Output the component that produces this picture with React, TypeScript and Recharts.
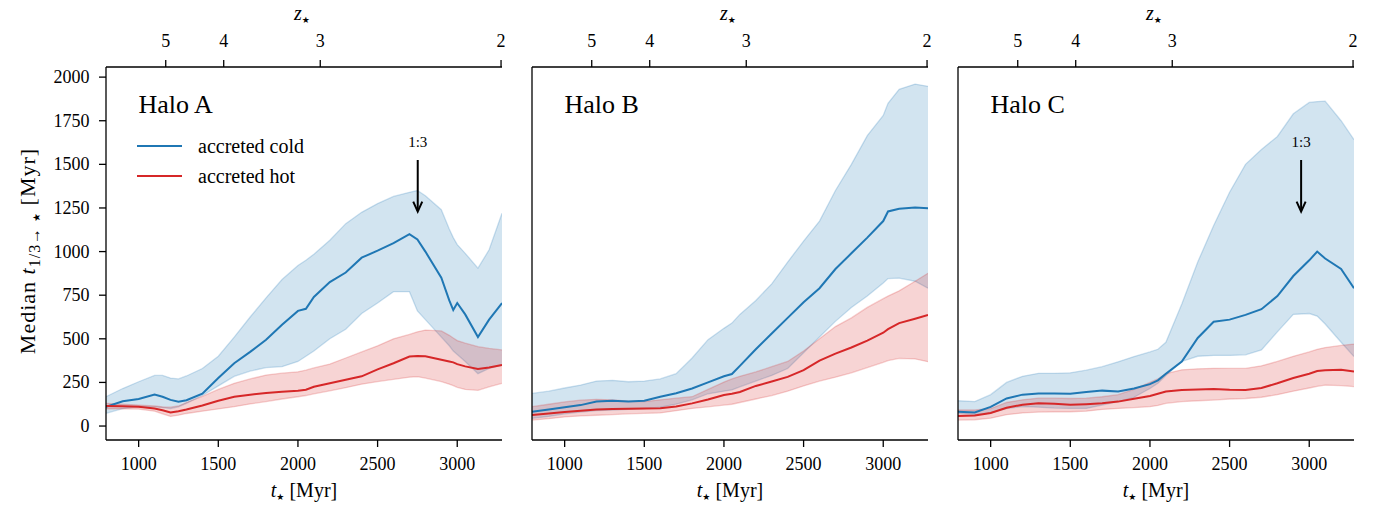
import React from 'react';
import { ComposedChart, Area, Line, XAxis, YAxis, ReferenceLine, Legend } from 'recharts';

const FONT = "'Liberation Serif', 'DejaVu Serif', serif";
const STAR_FONT = "'DejaVu Sans', sans-serif";
const BLUE = '#1f77b4';
const RED = '#d62728';

// ---------- shared axis data ----------
const tDomain = [795, 3281];
const yDomain = [-80, 2058];
const tTicks = [1000, 1500, 2000, 2500, 3000];
const yTicks = [0, 250, 500, 750, 1000, 1250, 1500, 1750, 2000];
const zTickLabels = ['5', '4', '3', '2'];
const zTickTimes = [1170, 1534, 2140, 3275];

const haloNames = ['Halo A', 'Halo B', 'Halo C'];
const legendNames = ['accreted cold', 'accreted hot'];
const legendColors = [BLUE, RED];

// merger arrows (time of 1:3 merger, null = none)
const mergerTimes = [2752, null, 2949];
const mergerLabel = '1:3';
const arrowTop = 1525;
const arrowTip = 1229;

// ---------- Halo A ----------
const tA = [795, 900, 1000, 1100, 1150, 1200, 1250, 1300, 1400, 1500, 1600, 1700, 1800, 1900, 2000, 2050, 2100, 2200, 2300, 2400, 2500, 2600, 2700, 2750, 2800, 2900, 2950, 2975, 3000, 3050, 3130, 3200, 3281];
const coldMedA = [111, 142, 155, 180, 168, 150, 140, 148, 185, 275, 360, 425, 495, 580, 660, 672, 740, 825, 880, 965, 1005, 1048, 1100, 1070, 1000, 850, 720, 665, 705, 640, 510, 610, 705];
const coldHiA = [168, 215, 254, 290, 290, 275, 270, 287, 330, 400, 510, 625, 735, 840, 920, 950, 985, 1065, 1160, 1225, 1275, 1316, 1340, 1350, 1320, 1240, 1130, 1080, 1040, 990, 905, 1010, 1220];
const coldLoA = [73, 100, 111, 110, 105, 100, 110, 130, 175, 230, 285, 315, 335, 340, 370, 400, 430, 500, 555, 645, 705, 770, 770, 660, 610, 510, 460, 430, 410, 370, 300, 330, 350];
const hotMedA = [115, 113, 111, 100, 90, 78, 85, 95, 118, 145, 168, 180, 190, 197, 202, 208, 225, 245, 265, 285, 325, 360, 398, 402, 400, 380, 370, 365, 355, 342, 327, 335, 350];
const hotHiA = [130, 125, 120, 115, 110, 108, 115, 135, 170, 210, 245, 270, 292, 303, 311, 320, 333, 355, 390, 425, 460, 500, 525, 540, 550, 545, 520, 505, 490, 475, 455, 445, 436];
const hotLoA = [99, 98, 97, 85, 70, 55, 62, 72, 85, 98, 111, 127, 140, 155, 168, 175, 185, 202, 220, 240, 255, 268, 280, 283, 275, 255, 240, 232, 222, 210, 205, 225, 245];

// ---------- Halo B ----------
const tB = [795, 900, 1000, 1100, 1200, 1300, 1400, 1500, 1600, 1700, 1800, 1900, 2000, 2050, 2100, 2200, 2300, 2400, 2500, 2600, 2700, 2800, 2900, 3000, 3030, 3100, 3200, 3281];
const coldMedB = [82, 95, 108, 120, 140, 145, 140, 145, 168, 188, 215, 250, 285, 298, 345, 440, 530, 620, 710, 790, 900, 990, 1080, 1175, 1230, 1245, 1252, 1249];
const coldHiB = [187, 200, 218, 235, 258, 262, 254, 258, 270, 300, 390, 495, 560, 590, 640, 720, 815, 940, 1060, 1175, 1350, 1500, 1665, 1780, 1850, 1930, 1960, 1947];
const coldLoB = [44, 55, 70, 80, 88, 92, 95, 100, 108, 125, 150, 185, 200, 207, 225, 258, 290, 330, 420, 510, 600, 680, 745, 820, 845, 848, 830, 790];
const hotMedB = [63, 72, 80, 88, 95, 98, 99, 100, 102, 112, 130, 152, 178, 185, 195, 230, 255, 282, 320, 375, 415, 450, 490, 535, 555, 590, 615, 637];
const hotHiB = [111, 125, 138, 148, 153, 150, 142, 140, 150, 160, 168, 210, 252, 270, 285, 310, 340, 370, 430, 500, 570, 620, 680, 730, 745, 775, 830, 876];
const hotLoB = [34, 42, 52, 58, 62, 66, 70, 73, 75, 88, 101, 110, 120, 125, 135, 155, 175, 200, 230, 258, 280, 305, 335, 365, 375, 388, 385, 369];

// ---------- Halo C ----------
const tC = [795, 900, 1000, 1100, 1200, 1300, 1400, 1500, 1600, 1700, 1800, 1900, 2000, 2050, 2100, 2200, 2300, 2400, 2500, 2600, 2700, 2800, 2900, 3000, 3050, 3100, 3200, 3281];
const coldMedC = [82, 78, 110, 158, 180, 187, 187, 185, 195, 203, 198, 215, 240, 262, 300, 370, 505, 598, 610, 637, 670, 745, 860, 950, 1000, 960, 900, 790];
const coldHiC = [145, 140, 180, 250, 285, 302, 302, 305, 320, 340, 368, 398, 425, 440, 480, 700, 940, 1150, 1340, 1500, 1585, 1660, 1790, 1855, 1860, 1862, 1750, 1641];
const coldLoC = [73, 65, 75, 100, 112, 108, 103, 101, 101, 120, 140, 165, 215, 245, 290, 370, 400, 405, 405, 408, 436, 540, 640, 645, 630, 585, 480, 398];
const hotMedC = [57, 60, 75, 105, 122, 130, 128, 122, 125, 130, 140, 157, 172, 185, 198, 207, 210, 212, 208, 207, 218, 245, 275, 300, 315, 320, 322, 312];
const hotHiC = [92, 92, 100, 135, 150, 160, 160, 158, 160, 168, 180, 210, 250, 270, 300, 322, 328, 331, 330, 330, 345, 370, 400, 425, 440, 450, 462, 470];
const hotLoC = [34, 36, 45, 65, 75, 80, 82, 82, 85, 95, 101, 106, 111, 118, 130, 140, 145, 149, 155, 158, 165, 180, 200, 218, 228, 235, 232, 226];

function buildRows(t: number[], cm: number[], cl: number[], ch: number[], hm: number[], hl: number[], hh: number[]) {
  return t.map((x, i) => ({
    t: x,
    coldMed: cm[i],
    coldBand: [cl[i], ch[i]],
    hotMed: hm[i],
    hotBand: [hl[i], hh[i]],
  }));
}

const panelRows = [
  buildRows(tA, coldMedA, coldLoA, coldHiA, hotMedA, hotLoA, hotHiA),
  buildRows(tB, coldMedB, coldLoB, coldHiB, hotMedB, hotLoB, hotHiB),
  buildRows(tC, coldMedC, coldLoC, coldHiC, hotMedC, hotLoC, hotHiC),
];

// ---------- layout ----------
const PLOT_LEFTS = [106, 532, 958];
const PLOT_W = 396;
const TOP_H = 67;
const BOTTOM_H = 66;
const CHART_H = 506;
const TICK_FS = 18;

const axisLine = { stroke: '#000', strokeWidth: 1.3 };
const tickLine = { stroke: '#000', strokeWidth: 1.3 };

function BottomTick(props: any) {
  const { x, payload } = props;
  return (
    <text x={x} y={470} textAnchor="middle" fontFamily={FONT} fontSize={TICK_FS} fill="#000">
      {payload.value}
    </text>
  );
}

function TopTick(props: any) {
  const { x, payload } = props;
  return (
    <text x={x} y={47} textAnchor="middle" fontFamily={FONT} fontSize={TICK_FS} fill="#000">
      {zTickLabels[zTickTimes.indexOf(payload.value)]}
    </text>
  );
}

function LeftTick(props: any) {
  const { y, payload } = props;
  return (
    <text x={89.5} y={y + 6} textAnchor="end" fontFamily={FONT} fontSize={TICK_FS} fill="#000">
      {payload.value}
    </text>
  );
}

function ArrowShape(props: any) {
  const { x1, y1, x2, y2 } = props;
  return (
    <g>
      <line x1={x1} y1={y1} x2={x2} y2={y2 - 1} stroke="#000" strokeWidth={2} />
      <polyline points={`${x2 - 4.5},${y2 - 10} ${x2},${y2} ${x2 + 4.5},${y2 - 10}`} fill="none" stroke="#000" strokeWidth={2} />
      <text x={x1} y={y1 - 13} textAnchor="middle" fontSize={15} fontFamily={FONT} fill="#000">{mergerLabel}</text>
    </g>
  );
}

function LegendContent() {
  return (
    <div style={{ fontFamily: FONT, fontSize: 20, color: '#000' }}>
      {legendNames.map((name, i) => (
        <div key={name} style={{ display: 'flex', alignItems: 'center', height: 30 }}>
          <span style={{ display: 'inline-block', width: 45, height: 2, background: legendColors[i], marginRight: 16 }} />
          <span style={{ lineHeight: '30px', whiteSpace: 'nowrap' }}>{name}</span>
        </div>
      ))}
    </div>
  );
}

function Panel({ idx }: { idx: number }) {
  const yw = idx === 0 ? 106 : 60;
  const left = PLOT_LEFTS[idx] - yw;
  const width = yw + PLOT_W + 10;
  const mt = mergerTimes[idx];
  return (
    <div style={{ position: 'absolute', left, top: 0 }}>
      <ComposedChart width={width} height={CHART_H} data={panelRows[idx]} margin={{ top: 0, right: 10, bottom: 0, left: 0 }} style={{ fontFamily: FONT }}>
        <XAxis
          xAxisId="b"
          orientation="bottom"
          type="number"
          dataKey="t"
          domain={tDomain}
          allowDataOverflow
          ticks={tTicks}
          interval={0}
          height={BOTTOM_H}
          tickSize={7}
          tickMargin={0}
          axisLine={axisLine}
          tickLine={tickLine}
          tick={BottomTick}
        />
        <XAxis
          xAxisId="top"
          orientation="top"
          type="number"
          dataKey="t"
          domain={tDomain}
          allowDataOverflow
          ticks={zTickTimes}
          interval={0}
          height={TOP_H}
          tickSize={7}
          tickMargin={0}
          axisLine={axisLine}
          tickLine={tickLine}
          tick={TopTick}
        />
        <YAxis
          yAxisId="l"
          type="number"
          domain={yDomain}
          allowDataOverflow
          ticks={yTicks}
          interval={0}
          width={yw}
          tickSize={7}
          tickMargin={0}
          axisLine={axisLine}
          tickLine={tickLine}
          tick={idx === 0 ? LeftTick : false}
        />
        <YAxis
          yAxisId="r"
          orientation="right"
          type="number"
          domain={yDomain}
          allowDataOverflow
          width={0}
          tick={false}
          tickLine={false}
          axisLine={axisLine}
        />
        <Area xAxisId="b" yAxisId="l" type="linear" dataKey="coldBand" stroke={BLUE} strokeOpacity={0.22} strokeWidth={1.3} fill={BLUE} fillOpacity={0.2} isAnimationActive={false} />
        <Area xAxisId="b" yAxisId="l" type="linear" dataKey="hotBand" stroke={RED} strokeOpacity={0.22} strokeWidth={1.3} fill={RED} fillOpacity={0.2} isAnimationActive={false} />
        <Line xAxisId="b" yAxisId="l" type="linear" dataKey="coldMed" stroke={BLUE} strokeWidth={2} dot={false} isAnimationActive={false} />
        <Line xAxisId="b" yAxisId="l" type="linear" dataKey="hotMed" stroke={RED} strokeWidth={2} dot={false} isAnimationActive={false} />
        {mt !== null && (
          <ReferenceLine
            xAxisId="b"
            yAxisId="l"
            segment={[{ x: mt, y: arrowTop }, { x: mt, y: arrowTip }]}
            ifOverflow="visible"
            shape={ArrowShape}
          />
        )}
        {idx === 0 && (
          <Legend
            layout="horizontal"
            verticalAlign="middle"
            align="center"
            content={LegendContent}
            wrapperStyle={{ left: 137, top: 131, width: 260, height: 60 }}
          />
        )}
      </ComposedChart>
    </div>
  );
}

export default function App() {
  const centers = PLOT_LEFTS.map((l) => l + PLOT_W / 2);
  return (
    <div style={{ position: 'absolute', left: 0, top: 0, width: 1375, height: 506, background: '#fff', fontFamily: FONT }}>
      {[0, 1, 2].map((i) => (
        <Panel key={i} idx={i} />
      ))}
      <svg width={1375} height={506} style={{ position: 'absolute', left: 0, top: 0, pointerEvents: 'none' }}>
        {centers.map((cx, i) => (
          <g key={i} fontFamily={FONT} fill="#000">
            <text x={cx - 2} y={20} fontSize={20} textAnchor="middle">
              <tspan fontStyle="italic">z</tspan>
              <tspan fontSize={9} fontFamily={STAR_FONT} dy={3}>★</tspan>
            </text>
            <text x={cx} y={497} fontSize={20} textAnchor="middle">
              <tspan fontStyle="italic">t</tspan>
              <tspan fontSize={9} fontFamily={STAR_FONT} dy={3}>★</tspan>
              <tspan dy={-3}> [Myr]</tspan>
            </text>
            <text x={PLOT_LEFTS[i] + 32.5} y={113} fontSize={26}>{haloNames[i]}</text>
          </g>
        ))}
        <text transform="translate(35,251) rotate(-90)" textAnchor="middle" fontFamily={FONT} fontSize={22} letterSpacing={1} fill="#000">
          <tspan>Median </tspan>
          <tspan fontStyle="italic">t</tspan>
          <tspan fontSize={16} dy={5}>1/3</tspan>
          <tspan fontSize={16}>→ </tspan>
          <tspan fontSize={10} fontFamily={STAR_FONT}>★</tspan>
          <tspan dy={-5}> [Myr]</tspan>
        </text>
      </svg>
    </div>
  );
}
